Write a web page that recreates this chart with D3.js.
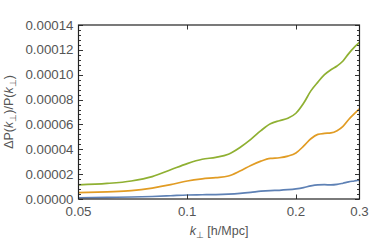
<!DOCTYPE html>
<html><head><meta charset="utf-8">
<script src="https://cdn.jsdelivr.net/npm/d3@7"></script>
<style>
html,body{margin:0;padding:0;background:#fff;}
svg text{font-family:"Liberation Sans",Arial,sans-serif;}
</style></head>
<body><svg id="c" width="382" height="240"></svg>
<script>
const kValues = [0.05,0.06,0.07,0.08,0.09,0.1,0.11,0.12,0.13,0.14,0.15,0.16,0.17,0.18,0.19,0.2,0.21,0.22,0.23,0.24,0.25,0.26,0.27,0.28,0.29,0.3];
const blueValues = [1.0e-6,1.3e-6,1.6e-6,2.0e-6,2.6e-6,3.2e-6,3.4e-6,3.6e-6,4.0e-6,4.6e-6,5.4e-6,6.3e-6,6.8e-6,7.0e-6,7.5e-6,8.2e-6,9.2e-6,1.05e-5,1.13e-5,1.15e-5,1.13e-5,1.17e-5,1.27e-5,1.38e-5,1.45e-5,1.52e-5];
const orangeValues = [5.1e-6,5.8e-6,6.7e-6,8.8e-6,1.15e-5,1.45e-5,1.62e-5,1.72e-5,1.85e-5,2.25e-5,2.7e-5,3.05e-5,3.27e-5,3.32e-5,3.45e-5,3.7e-5,4.25e-5,4.85e-5,5.2e-5,5.28e-5,5.32e-5,5.5e-5,5.85e-5,6.4e-5,6.85e-5,7.25e-5];
const greenValues = [1.13e-5,1.25e-5,1.45e-5,1.8e-5,2.35e-5,2.85e-5,3.2e-5,3.35e-5,3.6e-5,4.15e-5,4.8e-5,5.5e-5,6.05e-5,6.3e-5,6.5e-5,6.9e-5,7.7e-5,8.7e-5,9.4e-5,1.0e-4,1.04e-4,1.07e-4,1.11e-4,1.17e-4,1.22e-4,1.26e-4];
const seriesColors = ["#5E81B5","#E19C24","#8FB032"];
const xTicks = [0.05,0.1,0.2,0.3];
const xTickLabels = ["0.05","0.1","0.2","0.3"];
const yTicks = [0,0.00002,0.00004,0.00006,0.00008,0.0001,0.00012,0.00014];
const yTickLabels = ["0.00000","0.00002","0.00004","0.00006","0.00008","0.00010","0.00012","0.00014"];

const L=78.5, R=359.5, T=25, B=199;
const svg=d3.select("#c");
const x=d3.scaleLog().domain([0.05,0.3]).range([L,R]);
const y=d3.scaleLinear().domain([0,0.00014]).range([B,T]);
const txt="#555";

const series=[blueValues,orangeValues,greenValues];
const line=d3.line().x((d,i)=>x(kValues[i])).y(d=>y(d)).curve(d3.curveMonotoneX);
const clip=svg.append("clipPath").attr("id","cp").append("rect").attr("x",L).attr("y",T).attr("width",R-L).attr("height",B-T);
series.forEach((s,j)=>{
  svg.append("path").attr("d",line(s)).attr("fill","none").attr("stroke",seriesColors[j]).attr("stroke-width",1.7).attr("clip-path","url(#cp)");
});

// minor y ticks
const minorY=d3.range(0,0.000141,0.000004);
const g=svg.append("g").attr("stroke","#333").attr("stroke-width",1);
minorY.forEach(v=>{
  const yy=Math.round(y(v))+0.5;
  const major=yTicks.some(t=>Math.abs(t-v)<1e-9);
  const len=major?4.5:2.5;
  g.append("line").attr("x1",L).attr("x2",L+len).attr("y1",yy).attr("y2",yy);
  g.append("line").attr("x1",R).attr("x2",R-len).attr("y1",yy).attr("y2",yy);
});
[0.1,0.2].forEach(v=>{
  const xx=Math.round(x(v))+0.5;
  g.append("line").attr("x1",xx).attr("x2",xx).attr("y1",B).attr("y2",B-4.5);
  g.append("line").attr("x1",xx).attr("x2",xx).attr("y1",T).attr("y2",T+4.5);
});
svg.append("rect").attr("x",L).attr("y",T).attr("width",R-L).attr("height",B-T).attr("fill","none").attr("stroke","#222").attr("stroke-width",1.2);

yTicks.forEach((v,i)=>{
  svg.append("text").attr("x",L-5).attr("y",y(v)+4.5).attr("text-anchor","end").attr("font-size",13.3).attr("fill",txt).text(yTickLabels[i]);
});
xTicks.forEach((v,i)=>{
  svg.append("text").attr("x",x(v)).attr("y",216).attr("text-anchor","middle").attr("font-size",13.3).attr("fill",txt).text(xTickLabels[i]);
});
// x label
const xl=svg.append("text").attr("x",219).attr("y",235).attr("text-anchor","middle").attr("font-size",12.5).attr("fill",txt);
xl.append("tspan").attr("font-style","italic").text("k");
xl.append("tspan").attr("font-size",9).attr("dy",3).text("⊥");
xl.append("tspan").attr("dy",-3).text(" [h/Mpc]");
// y label
const yl=svg.append("text").attr("transform","translate(13,112) rotate(-90)").attr("text-anchor","middle").attr("font-size",12.5).attr("fill",txt);
yl.append("tspan").text("ΔP(");
yl.append("tspan").attr("font-style","italic").text("k");
yl.append("tspan").attr("font-size",9).attr("dy",3).text("⊥");
yl.append("tspan").attr("dy",-3).text(")/P(");
yl.append("tspan").attr("font-style","italic").text("k");
yl.append("tspan").attr("font-size",9).attr("dy",3).text("⊥");
yl.append("tspan").attr("dy",-3).text(")");
</script></body></html>
